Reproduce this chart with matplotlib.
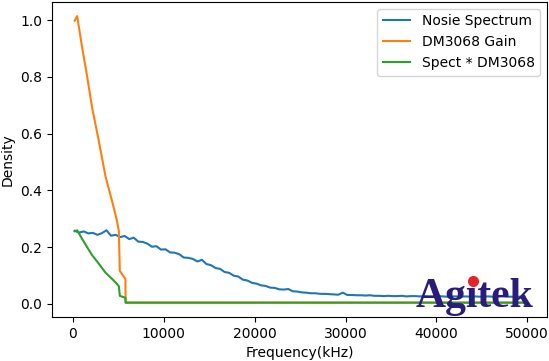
import numpy as np
import matplotlib
matplotlib.use("Agg")
import matplotlib.pyplot as plt
from matplotlib.lines import Line2D

# 噪声谱 (每 500 Hz 一个读数)
spec_freq = np.arange(200, 50000, 500)
spec_vals = [
    0.257, 0.251, 0.255, 0.248, 0.250, 0.243, 0.249, 0.259, 0.240, 0.243,
    0.235, 0.239, 0.228, 0.233, 0.219, 0.218, 0.212, 0.201, 0.203, 0.191,
    0.192, 0.181, 0.180, 0.175, 0.163, 0.162, 0.158, 0.149, 0.155, 0.140,
    0.136, 0.126, 0.123, 0.112, 0.109, 0.099, 0.096, 0.085, 0.082, 0.074,
    0.071, 0.065, 0.063, 0.057, 0.056, 0.051, 0.050, 0.052, 0.044, 0.043,
    0.040, 0.039, 0.037, 0.037, 0.035, 0.035, 0.034, 0.033, 0.032, 0.039,
    0.031, 0.031, 0.030, 0.030, 0.029, 0.030, 0.028, 0.028, 0.027, 0.028,
    0.027, 0.027, 0.028, 0.026, 0.027, 0.027, 0.026, 0.027, 0.026, 0.026,
    0.027, 0.026, 0.025, 0.026, 0.026, 0.025, 0.026, 0.025, 0.026, 0.025,
    0.025, 0.026, 0.025, 0.025, 0.026, 0.025, 0.025, 0.024, 0.025, 0.025,
]

# DM3068 增益
gain_freq = [200, 480, 960, 1580, 2130, 2790, 3590, 4330, 4800, 5060,
             5170, 5790, 5800, 49700]
gain_vals = [0.998, 1.014, 0.916, 0.800, 0.690, 0.585, 0.450, 0.360, 0.300, 0.257,
             0.116, 0.087, 0.004, 0.004]

# 谱 * 增益
prod_freq = [200, 480, 960, 1580, 2130, 2790, 3590, 4330, 4800, 5060,
             5170, 5790, 5800, 49700]
prod_vals = [0.256, 0.259, 0.232, 0.199, 0.171, 0.144, 0.110, 0.087, 0.072, 0.062,
             0.028, 0.021, 0.004, 0.004]

fig = plt.figure(figsize=(5.49, 3.61), dpi=100)
ax = fig.add_axes([0.095, 0.122, 0.9015, 0.873])

ax.plot(spec_freq, spec_vals, label='Nosie Spectrum')
ax.plot(gain_freq, gain_vals, label='DM3068 Gain')
ax.plot(prod_freq, prod_vals, label='Spect * DM3068')

ax.set_xlabel('Frequency(kHz)')
ax.set_ylabel('Density')
ax.legend(loc='upper right')

# 水印 Agitek, i 上面是红点
logo_font = dict(fontsize=30, fontweight='bold', family='Liberation Serif')
x0, y0 = 416 / 549, 1 - 307 / 361
fig.text(x0, y0, 'Agitek', color='#2a1c7c', zorder=10, **logo_font)

# 找 i 的位置, 把红点盖在 i 的点上
renderer = fig.canvas.get_renderer()
t1 = fig.text(x0, y0, 'Ag', alpha=0, **logo_font)
t2 = fig.text(x0, y0, 'Agi', alpha=0, **logo_font)
w1 = t1.get_window_extent(renderer).x1
w2 = t2.get_window_extent(renderer).x1
t1.remove()
t2.remove()
dot_x = (w1 + w2) / 2 / fig.bbox.width
dot_y = y0 + 26.5 / fig.bbox.height
fig.add_artist(Line2D([dot_x], [dot_y], marker='o', markersize=7,
                      color='#e42428', transform=fig.transFigure, zorder=11))

fig.savefig('out.png', dpi=100)
